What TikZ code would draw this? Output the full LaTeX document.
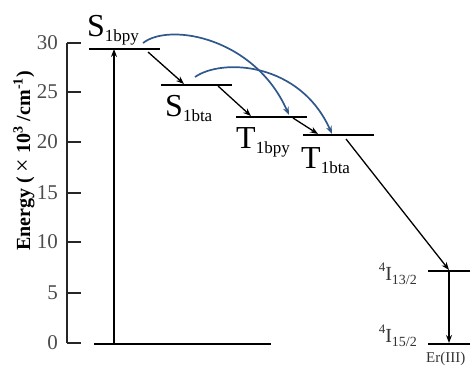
\documentclass[tikz,border=0pt]{standalone}
\usepackage{fontspec}
\setmainfont{Liberation Serif}
\usetikzlibrary{arrows.meta}
\definecolor{transblue}{RGB}{47,88,140}
\tikzset{
  level/.style={line width=2.8pt},
  axisline/.style={line width=2.2pt, draw=black!85},
  relax/.style={
    -{Stealth[length=8pt,width=6pt]},
    line width=1.3pt
  },
  transfer/.style={
    -{Stealth[length=8pt,width=6pt]},
    line width=1.7pt,
    draw=transblue
  },
  ticklabel/.style={anchor=east, inner sep=0pt, text=black!70, font=\fontsize{21}{21}\selectfont},
  statelabel/.style={anchor=base west, inner sep=0pt, font=\fontsize{32}{32}\selectfont},
  erlabel/.style={anchor=base east, inner sep=0pt, text=black!80, font=\fontsize{20}{20}\selectfont}
}
\newcommand{\lvlname}[2]{#1\raisebox{-5pt}{\fontsize{17}{17}\selectfont #2}}
\newcommand{\erterm}[1]{\raisebox{9pt}{\fontsize{13}{13}\selectfont 4}I\raisebox{-4pt}{\fontsize{14}{14}\selectfont #1}}

\begin{document}
\begin{tikzpicture}[x=1pt, y=-1pt]
\useasboundingbox (0,0) rectangle (470,364);

% energy axis
\draw[axisline] (67,43) -- (67,343);
\foreach \e/\ypos in {0/343,5/293,10/242,15/193,20/142,25/92,30/43}{
  \draw[axisline] (67,\ypos) -- (81,\ypos);
  \node[ticklabel] (tick\e) at (58,\ypos) {\e};
}
\node[rotate=90, font=\fontsize{20}{20}\selectfont\bfseries] (ylabel) at (24,161)
  {Energy ( {\mdseries\fontsize{24}{24}\selectfont\texttimes} 10\textsuperscript{3} /cm\textsuperscript{-1})};

% levels
\coordinate (g0) at (94,344);     \coordinate (g1) at (271,344);
\coordinate (sbpy0) at (89,49);   \coordinate (sbpy1) at (160,49);
\coordinate (sbta0) at (161,85);  \coordinate (sbta1) at (232,85);
\coordinate (tbpy0) at (236,117); \coordinate (tbpy1) at (307,117);
\coordinate (tbta0) at (303,135); \coordinate (tbta1) at (374,135);
\coordinate (ia0) at (428,271);   \coordinate (ia1) at (476,271);
\coordinate (ib0) at (428,344);   \coordinate (ib1) at (476,344);
\foreach \l in {g,sbpy,sbta,tbpy,tbta,ia,ib}
  \draw[level] (\l0) -- (\l1);

% level labels
\node[statelabel] (sbpylab) at (87,36) {\lvlname{S}{1bpy}};
\node[statelabel] (sbtalab) at (165,116) {\lvlname{S}{1bta}};
\node[statelabel] (tbpylab) at (236,148) {\lvlname{T}{1bpy}};
\node[statelabel] (tbtalab) at (301,168) {\lvlname{T}{1bta}};
\node[erlabel] (ialab) at (417,280) {\erterm{13/2}};
\node[erlabel] (iblab) at (417,342) {\erterm{15/2}};
\node[anchor=base west, inner sep=0pt, text=black!80, font=\fontsize{15}{15}\selectfont] (erlab) at (426,362) {Er(III)};

% arrow ends
\coordinate (up0) at (114,344);   \coordinate (up1) at (114,49);
\coordinate (r1a) at (148,52);    \coordinate (r1b) at (184,84);
\coordinate (r2a) at (218,86);    \coordinate (r2b) at (251,116);
\coordinate (r3a) at (293,118);   \coordinate (r3b) at (318,134);
\coordinate (r4a) at (346,139);   \coordinate (r4b) at (449,270);
\coordinate (em0) at (449,271);   \coordinate (em1) at (449,343);
\coordinate (et1a) at (143,43);   \coordinate (et1b) at (289,115);
\coordinate (et2a) at (195,77);   \coordinate (et2b) at (332,134);

\draw[relax] (up0) -- (up1);
\draw[relax] (r1a) -- (r1b);
\draw[relax] (r2a) -- (r2b);
\draw[relax] (r3a) -- (r3b);
\draw[relax] (r4a) -- (r4b);
\draw[relax] (em0) -- (em1);

% energy transfer
\draw[transfer] (et1a) .. controls (170,22) and (255,38) .. (et1b);
\draw[transfer] (et2a) .. controls (222,58) and (300,62) .. (et2b);
\end{tikzpicture}
\end{document}
